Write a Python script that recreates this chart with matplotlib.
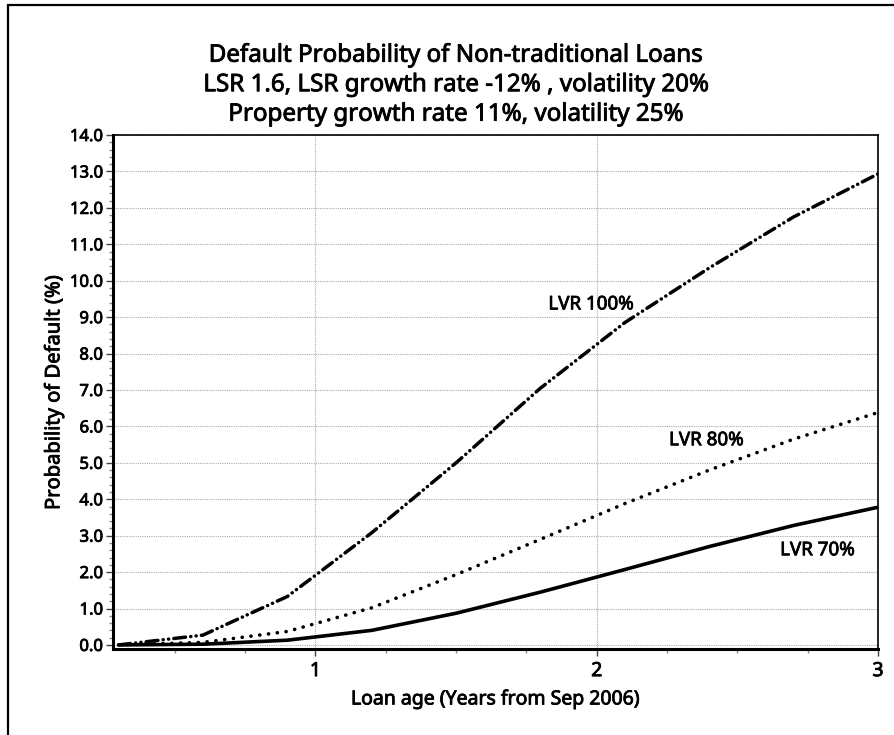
import matplotlib
matplotlib.use('Agg')
import matplotlib.pyplot as plt
import matplotlib.patheffects as pe
from matplotlib.patches import Rectangle
from matplotlib.text import Text
from matplotlib.ticker import MultipleLocator, FixedLocator

plt.rcParams['font.family'] = ['Noto Sans', 'DejaVu Sans']

# loan age in years from Sep 2006
loan_age = [0.3, 0.6, 0.9, 1.2, 1.5, 1.8, 2.1, 2.4, 2.7, 3.0]

# probability of default (%)
pd_lvr100 = [0.0, 0.27, 1.33, 3.08, 5.0, 7.05, 8.85, 10.35, 11.75, 12.93]
pd_lvr80 = [0.0, 0.07, 0.37, 1.02, 1.93, 2.9, 3.88, 4.8, 5.65, 6.38]
pd_lvr70 = [0.0, 0.02, 0.13, 0.4, 0.87, 1.45, 2.07, 2.7, 3.28, 3.78]

title_lines = ['Default Probability of Non-traditional Loans',
               'LSR 1.6, LSR growth rate -12% , volatility 20%',
               'Property growth rate 11%, volatility 25%']

fig = plt.figure(figsize=(8.94, 7.35), dpi=100)
ax = fig.add_axes([0.1264, 0.1166, 0.982 - 0.1264, 0.8163 - 0.1166])

ax.plot(loan_age, pd_lvr100, color='black', lw=2.5,
        linestyle=(0, (3.4, 1.5, 0.05, 1.5, 0.05, 1.5)),
        dash_capstyle='round', solid_capstyle='round')
ax.plot(loan_age, pd_lvr80, color='black', lw=2.6,
        linestyle=(0, (0.05, 2.4)), dash_capstyle='round')
ax.plot(loan_age, pd_lvr70, color='black', lw=2.6, solid_capstyle='butt')

ax.text(1.98, 9.35, 'LVR 100%', fontsize=13.5, ha='center', va='center')
ax.text(2.39, 5.62, 'LVR 80%', fontsize=13.5, ha='center', va='center')
ax.text(2.785, 2.6, 'LVR 70%', fontsize=13.5, ha='center', va='center')

ax.set_xlim(0.28, 3.0)
ax.set_ylim(-0.12, 14.0)

ax.xaxis.set_major_locator(FixedLocator([1, 2, 3]))
ax.xaxis.set_minor_locator(MultipleLocator(0.25))
ax.yaxis.set_major_locator(MultipleLocator(1.0))
ax.yaxis.set_minor_locator(MultipleLocator(0.2))
ax.set_yticks(range(0, 15))
ax.set_yticklabels(['%.1f' % v for v in range(0, 15)], fontsize=12)
ax.set_xticklabels(['1', '2', '3'], fontsize=14, fontweight='bold')

ax.tick_params(axis='both', which='major', direction='out', length=5, width=1, color='#444444')
ax.tick_params(axis='both', which='minor', direction='out', length=3, width=1, color='#888888')
ax.tick_params(axis='y', pad=2)

ax.grid(True, which='major', color='#aaaaaa', linestyle=(0, (1, 1)), linewidth=0.8)
ax.set_axisbelow(True)

ax.spines['left'].set_linewidth(2.2)
ax.spines['bottom'].set_linewidth(2.2)
ax.spines['top'].set_linewidth(1.2)
ax.spines['right'].set_linewidth(1.2)

ax.set_xlabel('Loan age (Years from Sep 2006)', fontsize=14, labelpad=6)
ax.set_ylabel('Probability of Default (%)', fontsize=14.5, labelpad=4)

for i, line in enumerate(title_lines):
    fig.text(0.51, 1 - (61.7 + 29.5 * i) / 735, line, fontsize=17.4,
             ha='center', va='baseline')

fig.patches.append(Rectangle((8 / 894, -0.1), 1.2, 1 - 5 / 735 + 0.1,
                             transform=fig.transFigure, fill=False,
                             edgecolor='black', lw=1.6))

# the original text is set in a slightly heavier face
for t in fig.findobj(Text):
    if t.get_text():
        t.set_path_effects([pe.withStroke(linewidth=0.6, foreground='black')])

fig.savefig('out.png', dpi=100)
